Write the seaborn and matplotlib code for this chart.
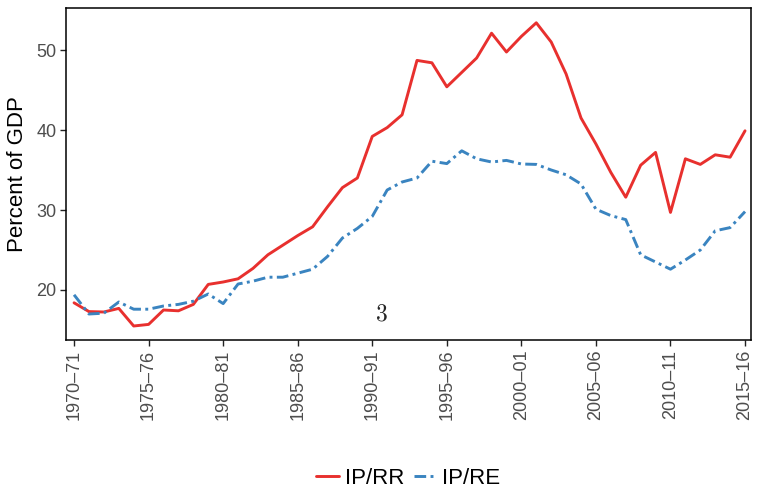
import numpy as np
import pandas as pd
import matplotlib
matplotlib.use("Agg")
import matplotlib.pyplot as plt
import seaborn as sns

# Data (percent of GDP)
years = [f"{y}\u2013{str(y + 1)[-2:]}" for y in range(1970, 2016)]

ip_rr = [18.4, 17.3, 17.25, 17.7, 15.5, 15.7, 17.5, 17.4, 18.2, 20.7,
         21.0, 21.4, 22.7, 24.4, 25.6, 26.8, 27.9, 30.4, 32.8, 34.0,
         39.2, 40.3, 41.9, 48.7, 48.4, 45.4, 47.2, 49.0, 52.1, 49.75,
         51.7, 53.4, 51.0, 47.0, 41.5, 38.25, 34.7, 31.6, 35.6, 37.2,
         29.7, 36.4, 35.7, 36.9, 36.6, 39.9]

ip_re = [19.4, 17.0, 17.1, 18.5, 17.6, 17.6, 18.0, 18.2, 18.6, 19.5,
         18.3, 20.75, 21.1, 21.6, 21.6, 22.1, 22.6, 24.2, 26.5, 27.7,
         29.2, 32.5, 33.5, 34.0, 36.1, 35.8, 37.4, 36.4, 36.0, 36.2,
         35.75, 35.7, 35.0, 34.4, 33.25, 30.1, 29.3, 28.8, 24.4, 23.5,
         22.6, 23.75, 25.0, 27.4, 27.8, 29.8]

df = pd.DataFrame({"idx": np.arange(len(years)), "IP/RR": ip_rr, "IP/RE": ip_re})

sns.set_style("white")
plt.rcParams["font.family"] = ["Liberation Sans", "DejaVu Sans"]
plt.rcParams["mathtext.fontset"] = "cm"

fig = plt.figure(figsize=(7.6, 4.9), dpi=100)
ax = fig.add_axes([66 / 760, 150 / 490, 685 / 760, 332 / 490])

sns.lineplot(data=df, x="idx", y="IP/RR", ax=ax, color="#e8302e", lw=2.1, label="IP/RR")
sns.lineplot(data=df, x="idx", y="IP/RE", ax=ax, color="#3a84c0", lw=2.1, label="IP/RE")
ax.lines[1].set_dashes((4, 1.5, 1, 1.5))

ax.set_xlim(-0.54, 45.4)
ax.set_ylim(13.75, 55.25)
ax.set_yticks([20, 30, 40, 50])
ax.set_xticks(df["idx"][::5])
ax.set_xticklabels(years[::5], rotation=90)

ax.set_xlabel("")
ax.set_ylabel("Percent of GDP", fontsize=16, color="black", labelpad=6)
ax.tick_params(axis="both", labelsize=13, labelcolor="#4d4d4d", direction="out",
               length=4, width=1, color="#222222", left=True, bottom=True, pad=3)
for s in ax.spines.values():
    s.set_visible(True)
    s.set_color("black")
    s.set_linewidth(1.1)

ax.text(20.6, 16.9, r"$3$", fontsize=17, ha="center", va="center")

leg = ax.legend(loc="center", bbox_to_anchor=(0.5, -0.418), ncol=2, frameon=False,
                fontsize=16, handlelength=1.0, handletextpad=0.3, columnspacing=0.4)
for t in leg.get_texts():
    t.set_color("black")

fig.savefig("out.png", dpi=100)
